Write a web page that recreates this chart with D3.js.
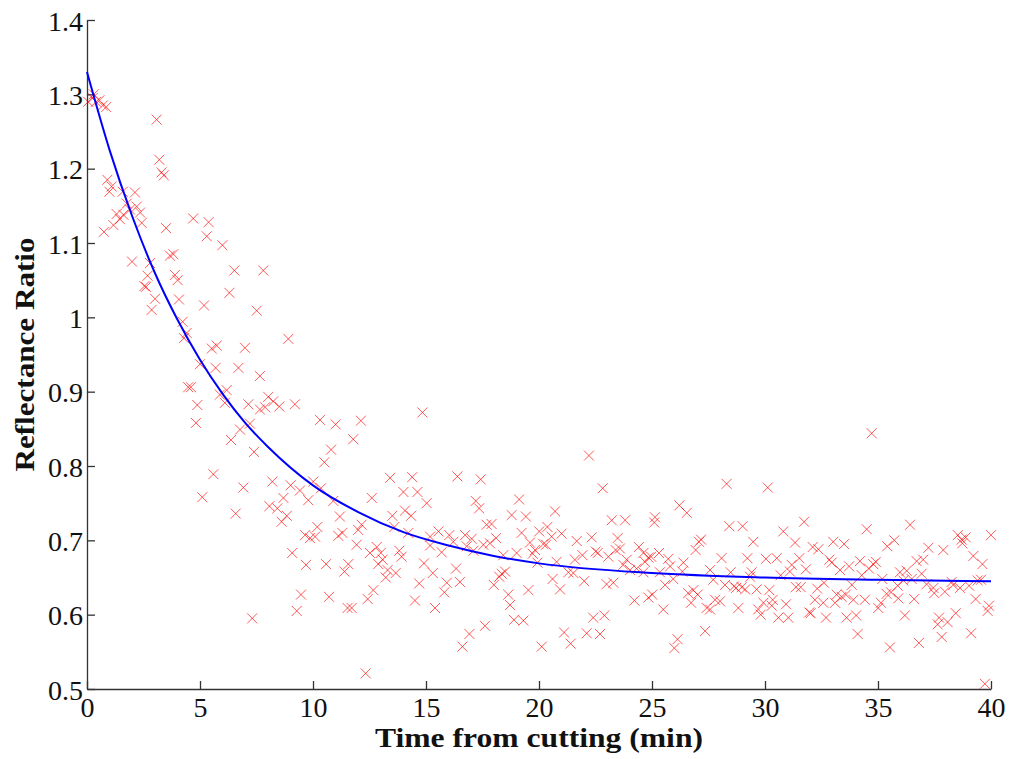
<html lang="en"><head>
<meta http-equiv="Content-Type" content="text/html; charset=UTF-8">
<title>Reflectance Ratio</title>
<script type="text/javascript" src="https://cdn.jsdelivr.net/npm/d3@7/dist/d3.min.js"></script>
<style type="text/css">
body { margin: 0; background: #fff; }
text { font-family: "Liberation Serif", "Times New Roman", serif; }
</style>
</head>
<body>
<div id="chart"></div>
<script type="text/javascript">

// measured points, (time in min, reflectance ratio)
var pts = [
  [0.05,1.290],[0.25,1.295],[0.30,1.300],[0.40,1.290],[0.55,1.292],[0.70,1.285],[0.85,1.283],
  [3.08,1.266],[3.20,1.212],[3.30,1.195],[3.40,1.191],[0.90,1.185],[1.09,1.176],[0.99,1.169],[1.58,1.169],[2.12,1.168],
  [1.76,1.153],[2.20,1.149],[1.90,1.145],[2.35,1.141],[1.31,1.139],[1.61,1.138],[1.46,1.132],[2.42,1.127],[1.17,1.124],[0.75,1.115],[3.50,1.120],
  [4.70,1.133],[5.38,1.128],[5.30,1.109],[5.99,1.097],[1.99,1.075],[3.67,1.083],[3.82,1.085],[2.79,1.073],[6.52,1.063],[7.80,1.063],
  [3.89,1.057],[4.01,1.050],[2.68,1.056],[2.54,1.042],[2.61,1.041],[6.30,1.033],[3.01,1.025],[4.07,1.024],[2.86,1.010],[5.18,1.016],[7.51,1.009],
  [4.23,0.994],[4.41,0.979],[4.29,0.972],[8.91,0.971],[5.52,0.958],[5.74,0.962],[6.99,0.959],[5.00,0.937],[5.69,0.932],[6.70,0.932],[7.65,0.921],
  [4.48,0.906],[4.60,0.906],[6.18,0.902],[5.88,0.896],[8.02,0.893],[8.24,0.887],[8.51,0.880],[4.88,0.882],[6.10,0.885],[7.14,0.883],[7.65,0.876],[7.88,0.879],[9.20,0.883],
  [4.82,0.858],[7.21,0.857],[6.77,0.849],[6.37,0.835],[7.39,0.819],[5.59,0.789],[8.20,0.779],[6.92,0.771],[9.01,0.774],[9.42,0.767],[9.79,0.754],[8.69,0.757],[5.10,0.758],
  [8.07,0.746],[8.42,0.743],[8.84,0.733],[8.61,0.725],[6.58,0.736],[9.65,0.707],
  [9.08,0.683],[9.69,0.667],[9.47,0.627],[9.28,0.605],[7.31,0.595],
  [14.84,0.872],[10.31,0.862],[11.00,0.856],[12.12,0.861],[11.78,0.836],[10.80,0.822],[10.50,0.805],[13.41,0.784],[14.39,0.785],[10.01,0.779],[10.35,0.770],
  [14.00,0.765],[14.62,0.765],[10.90,0.753],[12.60,0.757],[15.03,0.750],[11.19,0.732],[14.07,0.740],[14.34,0.733],[13.51,0.733],
  [10.19,0.718],[12.15,0.721],[12.00,0.714],[13.60,0.718],[9.87,0.703],[10.09,0.705],[11.12,0.706],[11.30,0.710],[11.93,0.694],[14.22,0.710],
  [15.55,0.712],[15.18,0.705],[15.69,0.684],[15.18,0.693],
  [12.52,0.683],[12.82,0.691],[13.00,0.683],[13.08,0.674],[12.89,0.668],[13.82,0.686],[13.92,0.678],
  [10.58,0.668],[11.56,0.668],[11.39,0.658],[13.30,0.660],[13.22,0.650],[13.66,0.656],[14.91,0.669],[15.30,0.656],[14.70,0.642],
  [10.71,0.624],[12.67,0.633],[12.42,0.621],[11.53,0.609],[11.71,0.609],[14.51,0.619],[15.40,0.609],[15.81,0.630],[12.33,0.521],
  [16.39,0.786],[17.42,0.782],[17.20,0.753],[17.35,0.743],[19.12,0.755],[18.79,0.734],[19.42,0.732],[20.71,0.739],[17.68,0.721],[17.90,0.722],
  [16.03,0.707],[16.21,0.698],[16.73,0.707],[17.02,0.702],[18.10,0.703],[19.23,0.710],[20.01,0.712],[20.37,0.718],[20.56,0.705],[21.00,0.709],
  [19.60,0.697],[20.19,0.695],[20.31,0.694],[21.67,0.699],[16.80,0.692],[17.10,0.686],[17.54,0.694],[17.83,0.696],[19.82,0.687],[19.72,0.682],
  [18.42,0.680],[19.01,0.683],[19.93,0.670],[20.78,0.671],[21.59,0.674],[21.30,0.657],[21.52,0.656],[16.33,0.662],
  [18.50,0.658],[18.24,0.651],[18.35,0.655],[18.00,0.640],[15.92,0.643],[16.50,0.644],[19.53,0.633],[20.60,0.648],[20.93,0.634],
  [18.64,0.627],[18.72,0.613],[18.89,0.593],[19.31,0.592],[17.61,0.585],[16.92,0.574],[16.61,0.557],[20.12,0.557],[21.11,0.576],[21.40,0.561],
  [22.21,0.814],[22.82,0.770],[26.21,0.747],[26.54,0.737],[23.22,0.727],[23.81,0.727],[25.13,0.731],[25.10,0.724],[22.33,0.704],[23.48,0.703],[27.17,0.701],[27.08,0.698],
  [21.92,0.680],[22.51,0.685],[22.60,0.683],[23.07,0.678],[23.39,0.687],[23.58,0.689],[24.42,0.691],[24.62,0.683],[24.84,0.677],[24.96,0.678],[24.69,0.671],
  [25.31,0.683],[25.72,0.675],[25.80,0.665],[26.39,0.670],[26.93,0.687],[23.88,0.674],[23.73,0.667],[24.03,0.660],[24.32,0.662],[24.62,0.657],[25.35,0.657],[26.34,0.658],
  [22.00,0.645],[22.99,0.641],[23.29,0.643],[25.58,0.640],[25.94,0.648],[27.57,0.660],[27.71,0.647],[26.60,0.629],[26.83,0.633],[27.02,0.627],[26.73,0.616],
  [24.22,0.619],[24.84,0.623],[25.01,0.627],[25.50,0.607],[27.42,0.609],[27.57,0.607],[22.40,0.596],[22.89,0.599],[22.11,0.575],[22.70,0.574],[27.35,0.578],[26.13,0.567],[25.99,0.555],
  [28.30,0.776],[30.12,0.771],[28.42,0.719],[29.01,0.719],[30.81,0.712],[31.73,0.725],[29.48,0.698],[31.33,0.697],[32.11,0.691],[32.36,0.688],[33.02,0.698],[33.50,0.695],
  [28.08,0.676],[29.22,0.676],[30.04,0.675],[30.52,0.676],[31.52,0.676],[32.85,0.674],[32.95,0.670],[31.18,0.667],[31.10,0.658],[31.81,0.661],[33.32,0.660],
  [28.48,0.657],[29.41,0.657],[29.34,0.651],[30.69,0.653],[32.61,0.643],[28.23,0.640],[28.63,0.638],[28.72,0.636],[28.97,0.637],[29.12,0.634],
  [29.63,0.634],[30.19,0.633],[31.37,0.637],[31.58,0.637],[32.31,0.635],[33.17,0.627],[33.39,0.624],[33.58,0.627],[27.79,0.620],[28.01,0.618],
  [28.82,0.609],[29.93,0.616],[30.34,0.620],[30.30,0.612],[30.93,0.614],[32.21,0.620],[32.58,0.616],[33.10,0.616],[29.70,0.607],[29.81,0.600],
  [30.59,0.596],[31.03,0.596],[31.96,0.603],[32.02,0.602],[32.70,0.596],[33.61,0.596],
  [34.72,0.844],[34.50,0.715],[36.42,0.721],[38.53,0.707],[38.70,0.701],[38.88,0.704],[38.73,0.696],[40.00,0.707],[35.41,0.692],[35.72,0.700],[37.23,0.690],[37.89,0.687],[39.22,0.679],[39.62,0.668],
  [33.72,0.665],[34.20,0.672],[34.90,0.671],[34.79,0.668],[34.60,0.662],[34.28,0.653],[36.71,0.672],[37.00,0.674],
  [35.97,0.657],[36.27,0.659],[36.12,0.646],[36.49,0.648],[36.93,0.655],[35.19,0.648],[33.84,0.640],[35.87,0.639],[37.15,0.641],[37.45,0.636],[37.49,0.629],
  [38.26,0.644],[38.33,0.640],[38.63,0.636],[39.03,0.639],[39.41,0.646],[39.56,0.647],[37.96,0.631],[33.91,0.620],[34.42,0.620],
  [35.38,0.628],[35.58,0.630],[35.90,0.622],[36.60,0.621],[39.32,0.621],[35.13,0.616],[35.01,0.609],[34.03,0.599],[36.19,0.599],
  [37.70,0.596],[37.64,0.587],[38.08,0.590],[38.44,0.602],[39.91,0.612],[39.85,0.605],[34.10,0.574],[37.82,0.570],[39.12,0.575],[35.53,0.556],[36.81,0.562],[39.73,0.507]
];

// fitted curve
var fitTime  = [0, 1, 2, 3, 4, 5, 6, 7, 8, 10, 12, 14, 16, 18, 20, 25, 30, 35, 40];
var fitRatio = [1.330, 1.225, 1.136, 1.060, 0.997, 0.943, 0.897, 0.858, 0.826, 0.774, 0.738, 0.711, 0.693, 0.679, 0.669, 0.656, 0.650, 0.647, 0.645];

var xTicks = [0, 5, 10, 15, 20, 25, 30, 35, 40];
var yTicks = [0.5, 0.6, 0.7, 0.8, 0.9, 1, 1.1, 1.2, 1.3, 1.4];

var width = 1013;
var height = 759;
var padL = 87, padR = 991, padT = 20, padB = 689;

var svg = d3.select("#chart").append("svg")
        .attr("width", width)
        .attr("height", height);

svg.append("rect").attr("width", width).attr("height", height).attr("fill", "white");

var x = d3.scaleLinear().domain([0, 40]).range([padL, padR]);
var y = d3.scaleLinear().domain([0.5, 1.4]).range([padB, padT]);

var xAxis = svg.append("g")
        .attr("transform", "translate(0," + padB + ")")
        .call(d3.axisBottom(x).tickValues(xTicks).tickSizeInner(-8).tickSizeOuter(0).tickPadding(8)
                .tickFormat(function (d) { return d; }));

var yAxis = svg.append("g")
        .attr("transform", "translate(" + padL + ",0)")
        .call(d3.axisLeft(y).tickValues(yTicks).tickSizeInner(-8).tickSizeOuter(0).tickPadding(4)
                .tickFormat(function (d) { return d; }));

svg.selectAll(".domain, .tick line").attr("stroke", "#333").attr("stroke-width", 1.3);
svg.selectAll(".tick text")
        .attr("font-family", "Liberation Serif")
        .attr("font-size", 28)
        .attr("fill", "#111");
yAxis.selectAll(".tick text").attr("dy", "0.36em");

// scatter crosses
var s = 5;
svg.append("g").selectAll("path").data(pts).enter().append("path")
        .attr("d", function (d) {
          var cx = x(d[0]), cy = y(d[1]);
          return "M" + (cx - s) + "," + (cy - s) + "L" + (cx + s) + "," + (cy + s) +
                 "M" + (cx - s) + "," + (cy + s) + "L" + (cx + s) + "," + (cy - s);
        })
        .attr("stroke", "#ff0000")
        .attr("stroke-opacity", 0.65)
        .attr("stroke-width", 1)
        .attr("fill", "none");

// fit line
var line = d3.line()
        .x(function (d, i) { return x(fitTime[i]); })
        .y(function (d) { return y(d); })
        .curve(d3.curveMonotoneX);

svg.append("path")
        .datum(fitRatio)
        .attr("d", line)
        .attr("fill", "none")
        .attr("stroke", "#0000ff")
        .attr("stroke-width", 2);

svg.append("text")
        .attr("x", (padL + padR) / 2)
        .attr("y", 747)
        .attr("text-anchor", "middle")
        .attr("font-weight", "bold")
        .attr("font-size", 27)
        .attr("textLength", 328)
        .attr("lengthAdjust", "spacingAndGlyphs")
        .attr("fill", "#111")
        .text("Time from cutting (min)");

svg.append("text")
        .attr("transform", "translate(34," + ((padT + padB) / 2) + ") rotate(-90)")
        .attr("text-anchor", "middle")
        .attr("font-weight", "bold")
        .attr("font-size", 27)
        .attr("textLength", 234)
        .attr("lengthAdjust", "spacingAndGlyphs")
        .attr("fill", "#111")
        .text("Reflectance Ratio");

</script>
</body></html>
